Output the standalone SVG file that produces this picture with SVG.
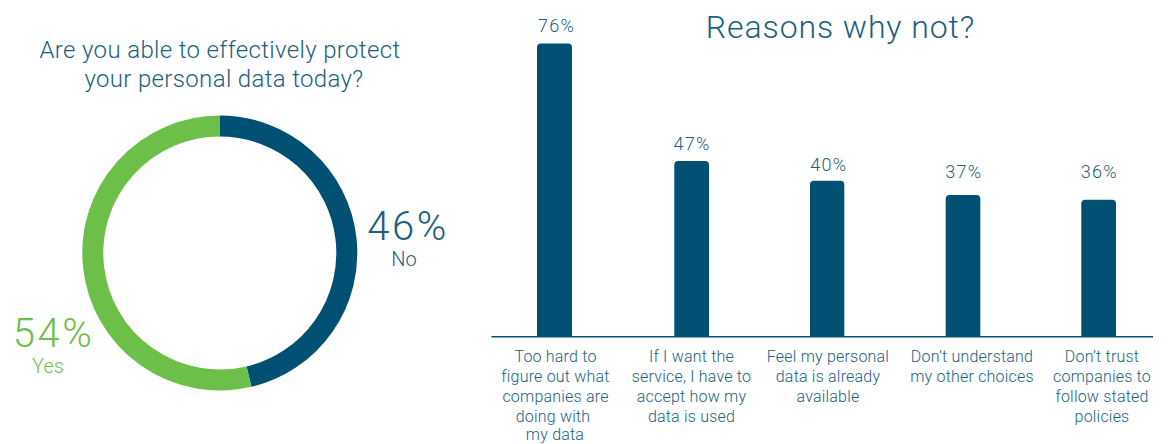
<svg xmlns="http://www.w3.org/2000/svg" width="1168" height="444" viewBox="0 0 1168 444">
<style>
  text { font-family: Roboto, "Liberation Sans", Arial, sans-serif; font-weight: 300; fill: #1d5f80; text-anchor: middle; }
  .title { font-size: 24px; letter-spacing: 0.35px; }
  .big { font-size: 32px; letter-spacing: 0.9px; }
  .pctbig { font-size: 40px; letter-spacing: 2.6px; }
  .sub { font-size: 20px; }
  .val { font-size: 18px; letter-spacing: 1.2px; }
  .cat { font-size: 16px; letter-spacing: 0.2px; }
  .green { fill: #6cc04a; }
  .bar { fill: #005073; }
</style>
<rect width="1168" height="444" fill="#ffffff"/>

<g id="donut-title">
  <text class="title" x="220" y="58">Are you able to effectively protect</text>
  <text class="title" x="224" y="87">your personal data today?</text>
</g>
<g id="donut">
  <path id="arc-no" d="M220,126 A127,127 0 0 1 249,376.6" fill="none" stroke="#005073" stroke-width="21"/>
  <path id="arc-yes" d="M249,376.6 A127,127 0 1 1 220,126" fill="none" stroke="#6cc04a" stroke-width="21"/>
</g>
<g id="label-no">
  <text class="pctbig" x="408" y="240">46%</text>
  <text class="sub" x="404" y="266">No</text>
</g>
<g id="label-yes">
  <text class="pctbig green" x="53.5" y="347">54%</text>
  <text class="sub green" x="48" y="373">Yes</text>
</g>

<g id="chart-title">
  <text class="big" x="840.5" y="38">Reasons why not?</text>
</g>

<g id="axis">
  <line x1="491.5" y1="336.8" x2="1153" y2="336.8" stroke="#005073" stroke-width="1.5"/>
</g>

<g id="bar1">
  <path class="bar" d="M537,336.5 V47.5 Q537,43.5 541,43.5 H568 Q572,43.5 572,47.5 V336.5 Z"/>
  <text class="val" x="556.5" y="32">76%</text>
  <text class="cat" x="555.5" y="361.7">Too hard to</text>
  <text class="cat" x="555.5" y="381.7">figure out what</text>
  <text class="cat" x="555.5" y="401.7">companies are</text>
  <text class="cat" x="553" y="421.7">doing with</text>
  <text class="cat" x="555" y="440">my data</text>
</g>
<g id="bar2">
  <path class="bar" d="M674.3,336.5 V165 Q674.3,161 678.3,161 H705 Q709,161 709,165 V336.5 Z"/>
  <text class="val" x="692" y="150">47%</text>
  <text class="cat" x="691.5" y="361.7">If I want the</text>
  <text class="cat" x="691.5" y="381.7">service, I have to</text>
  <text class="cat" x="691.5" y="401.7">accept how my</text>
  <text class="cat" x="691.5" y="421.7">data is used</text>
</g>
<g id="bar3">
  <path class="bar" d="M810,336.5 V184.7 Q810,180.7 814,180.7 H840.3 Q844.3,180.7 844.3,184.7 V336.5 Z"/>
  <text class="val" x="828.8" y="170.7">40%</text>
  <text class="cat" x="828" y="361.7">Feel my personal</text>
  <text class="cat" x="828" y="381.7">data is already</text>
  <text class="cat" x="828" y="401.7">available</text>
</g>
<g id="bar4">
  <path class="bar" d="M945.7,336.5 V199 Q945.7,195 949.7,195 H976.3 Q980.3,195 980.3,199 V336.5 Z"/>
  <text class="val" x="963.8" y="178.3">37%</text>
  <text class="cat" x="972" y="361.7">Don’t understand</text>
  <text class="cat" x="972" y="381.7">my other choices</text>
</g>
<g id="bar5">
  <path class="bar" d="M1081.3,336.5 V203.7 Q1081.3,199.7 1085.3,199.7 H1112 Q1116,199.7 1116,203.7 V336.5 Z"/>
  <text class="val" x="1099.3" y="178.3">36%</text>
  <text class="cat" x="1102" y="361.7">Don’t trust</text>
  <text class="cat" x="1102" y="381.7">companies to</text>
  <text class="cat" x="1102" y="401.7">follow stated</text>
  <text class="cat" x="1102" y="421.7">policies</text>
</g>
</svg>
